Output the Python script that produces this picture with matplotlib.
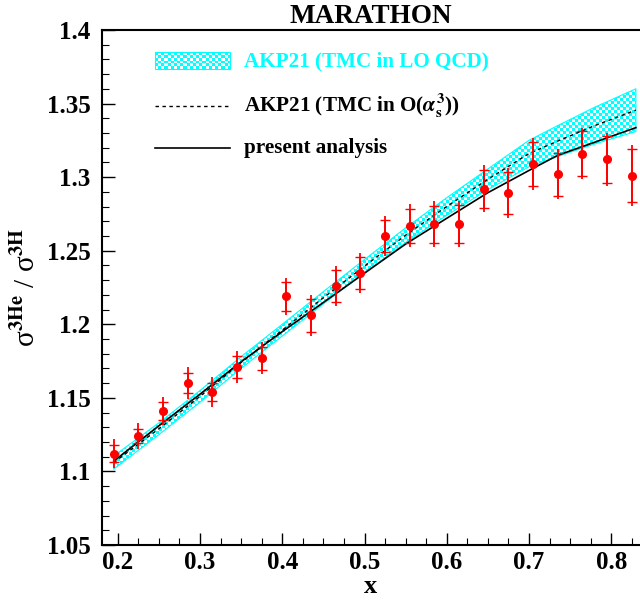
import numpy as np
import matplotlib
matplotlib.use("Agg")
import matplotlib.pyplot as plt
from matplotlib.colors import ListedColormap
from matplotlib.patches import Rectangle

plt.rcParams['font.family'] = ['Liberation Serif', 'DejaVu Serif']
plt.rcParams['font.weight'] = 'bold'
plt.rcParams['mathtext.fontset'] = 'stix'

# ---- data ----
x_data = [0.195, 0.225, 0.255, 0.285, 0.315, 0.345, 0.375, 0.405, 0.435, 0.465, 0.495,
          0.525, 0.555, 0.585, 0.615, 0.645, 0.675, 0.705, 0.735, 0.765, 0.795, 0.825]
y_data = [1.112, 1.124, 1.141, 1.160, 1.154, 1.171, 1.177, 1.219, 1.206, 1.226, 1.235,
          1.260, 1.267, 1.268, 1.268, 1.292, 1.289, 1.309, 1.302, 1.316, 1.312, 1.301]
err_stat = [0.0057, 0.0047, 0.0060, 0.0070, 0.0060, 0.0076, 0.0078, 0.0100, 0.0112, 0.0107, 0.0108,
            0.0107, 0.0115, 0.0125, 0.0130, 0.0130, 0.0143, 0.0150, 0.0147, 0.0150, 0.0157, 0.0178]
err_tot = [0.0097, 0.0091, 0.0098, 0.0108, 0.0100, 0.0110, 0.0108, 0.0127, 0.0142, 0.0136, 0.0136,
           0.0136, 0.0145, 0.0155, 0.0158, 0.0160, 0.0170, 0.0175, 0.0170, 0.0175, 0.0180, 0.0205]

x_model = [0.195, 0.25, 0.3, 0.35, 0.4, 0.45, 0.5, 0.55, 0.6, 0.65, 0.7, 0.735, 0.78, 0.83]
present = [1.107, 1.131, 1.1525, 1.1745, 1.195, 1.2148, 1.2347, 1.2545, 1.272, 1.2894,
           1.3045, 1.3148, 1.3237, 1.3336]
akp_o3 = [1.106, 1.129, 1.151, 1.174, 1.196, 1.218, 1.2395, 1.2605, 1.280, 1.2985,
          1.316, 1.3245, 1.335, 1.3455]
akp_lo_halfwidth = [0.0045, 0.004, 0.004, 0.004, 0.004, 0.0042, 0.0045, 0.005, 0.006, 0.007,
                    0.009, 0.0105, 0.0125, 0.0145]

legend_labels = ["AKP21 (TMC in LO QCD)",
                 r"AKP21 (TMC in O($\alpha_{\mathbf{s}}^{\mathbf{3}}$))",
                 "present analysis"]

# ---- figure ----
fig = plt.figure(figsize=(6.4, 6.01), dpi=100)
ax = fig.add_axes([0.159, 0.0932, 0.841, 0.857])

xm = np.array(x_model)
mid = np.array(akp_o3)
hw = np.array(akp_lo_halfwidth)
lo = mid - hw
hi = mid + hw

# checkerboard image for band
ncol, nrow = 180, 172
ii, jj = np.indices((nrow, ncol))
checker = (ii + jj) % 2
cmap = ListedColormap(['white', 'cyan'])
poly = ax.fill_between(xm, lo, hi, facecolor='none', edgecolor='cyan', lw=0.8, zorder=2)
im = ax.imshow(checker, cmap=cmap, extent=(0, 1, 0, 1), transform=ax.transAxes,
               interpolation='nearest', aspect='auto', zorder=1, origin='lower')
im.set_clip_path(poly.get_paths()[0], transform=ax.transData)

ax.plot(xm, mid, color='black', lw=1.0, ls=(0, (2.5, 2.5)), zorder=3)
ax.plot(xm, present, color='black', lw=1.2, zorder=3)

# data points: total error line, stat caps
ax.errorbar(x_data, y_data, yerr=err_tot, fmt='none', ecolor='red', elinewidth=1.3,
            capsize=0, zorder=4)
ax.errorbar(x_data, y_data, yerr=err_stat, fmt='o', color='red', ms=5.5, ecolor='red',
            elinewidth=1.3, capsize=3.6, capthick=1.0, zorder=5)

ax.set_xlim(0.1805, 0.835)
ax.set_ylim(1.05, 1.4)
ax.set_xticks([0.2, 0.3, 0.4, 0.5, 0.6, 0.7, 0.8])
ax.set_xticklabels(['0.2', '0.3', '0.4', '0.5', '0.6', '0.7', '0.8'])
ax.set_xticks(np.arange(0.2, 0.84, 0.025), minor=True)
ax.set_yticks([1.05, 1.1, 1.15, 1.2, 1.25, 1.3, 1.35, 1.4])
ax.set_yticklabels(['1.05', '1.1', '1.15', '1.2', '1.25', '1.3', '1.35', '1.4'])
ax.set_yticks(np.arange(1.05, 1.401, 0.01), minor=True)
ax.tick_params(axis='both', which='major', direction='in', length=9, width=1.0,
               labelsize=18)
ax.tick_params(axis='both', which='minor', direction='in', length=5, width=0.8)
ax.tick_params(axis='x', pad=4)
ax.tick_params(axis='y', pad=8)
ax.tick_params(top=False, right=False, which='both')
for lab in ax.get_xticklabels() + ax.get_yticklabels():
    lab.set_fontweight('bold')
for s in ['left', 'bottom', 'top']:
    ax.spines[s].set_linewidth(1.5)
ax.spines['right'].set_visible(False)

ax.set_title('MARATHON', fontsize=19.5, fontweight='bold', pad=5)
ax.set_xlabel('x', fontsize=19, fontweight='bold', labelpad=1)
ax.set_ylabel(r'σ$^{\mathbf{3He}}$ / σ$^{\mathbf{3H}}$', fontsize=21, labelpad=4)

# ---- legend (drawn manually in axes coordinates) ----
sw = (0.0985, 0.238, 0.924, 0.957)
leg_checker = (np.indices((6, 24)).sum(axis=0)) % 2
ax.imshow(leg_checker, cmap=cmap, extent=sw, transform=ax.transAxes,
          interpolation='nearest', aspect='auto', zorder=6, origin='lower')
ax.add_patch(Rectangle((sw[0], sw[2]), sw[1] - sw[0], sw[3] - sw[2], transform=ax.transAxes,
                       facecolor='none', edgecolor='cyan', lw=0.8, zorder=7))
ax.plot([0.0985, 0.238], [0.8524, 0.8524], transform=ax.transAxes, color='black',
        lw=1.0, ls=(0, (2.5, 2.5)), zorder=6)
ax.plot([0.0985, 0.238], [0.771, 0.771], transform=ax.transAxes, color='black',
        lw=1.2, zorder=6)
ax.text(0.264, 0.939, legend_labels[0], transform=ax.transAxes, color='cyan',
        fontsize=15.2, fontweight='bold', va='center', ha='left')
ax.text(0.264, 0.8524, legend_labels[1], transform=ax.transAxes, color='black',
        fontsize=15.2, fontweight='bold', va='center', ha='left')
ax.text(0.264, 0.771, legend_labels[2], transform=ax.transAxes, color='black',
        fontsize=15.2, fontweight='bold', va='center', ha='left')

ax.set_xlim(0.1805, 0.835)
ax.set_ylim(1.05, 1.4)

fig.savefig('out.png', dpi=100)
